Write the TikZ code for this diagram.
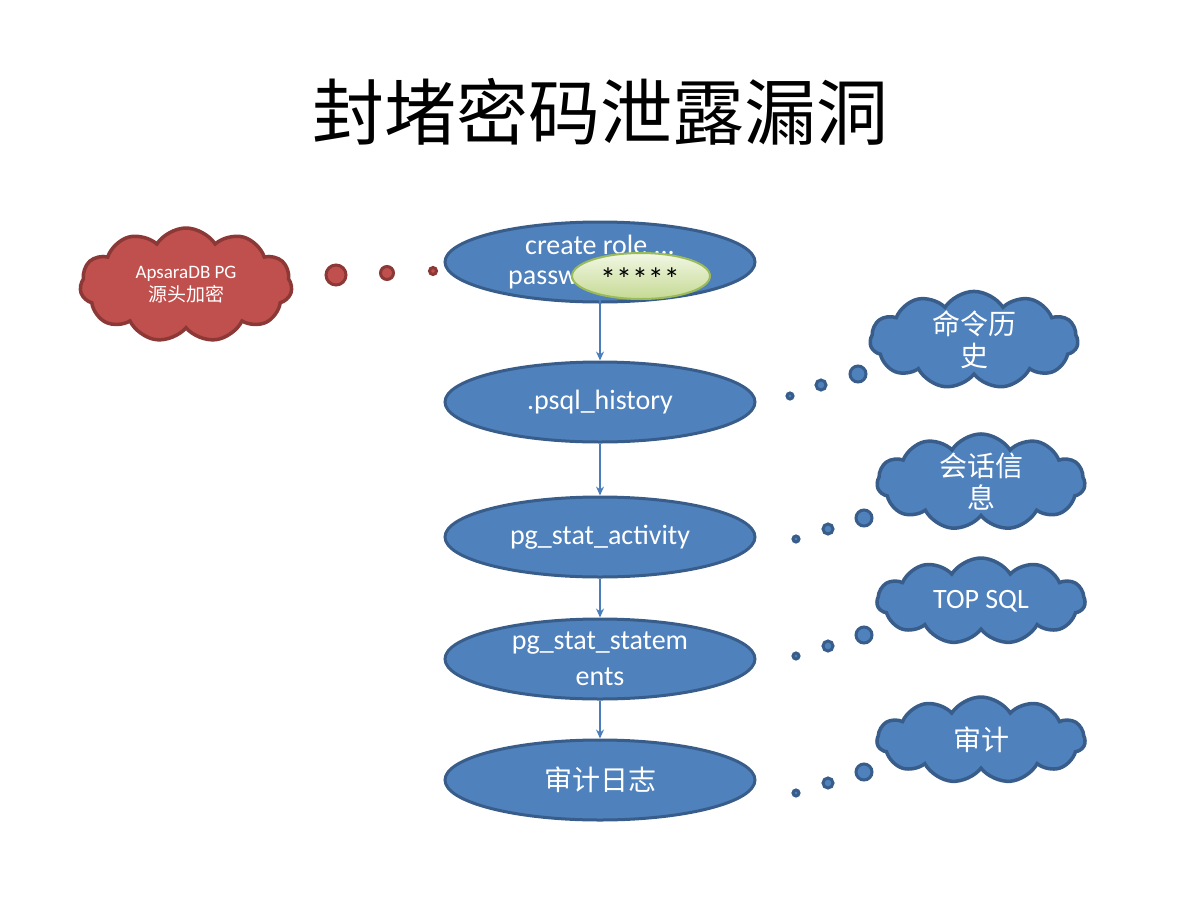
\documentclass[tikz,border=0pt]{standalone}
\usepackage{fontspec}
\setmainfont{Carlito}
\newfontfamily\cjk{Noto Sans CJK SC}
\usetikzlibrary{shapes.geometric,shapes.symbols,arrows.meta}
\definecolor{bfill}{HTML}{4F81BD}
\definecolor{bline}{HTML}{385D8A}
\definecolor{rfill}{HTML}{C0504D}
\definecolor{rline}{HTML}{8C3836}
\definecolor{gline}{HTML}{9BBB59}
\definecolor{gtop}{HTML}{F2F7E4}
\definecolor{gbot}{HTML}{C5DA94}
\definecolor{arr}{HTML}{4A7EBB}
\tikzset{
  stage/.style={ellipse, draw=bline, fill=bfill, line width=3pt, minimum width=310pt, minimum height=80pt, inner sep=0pt, text=white, font=\fontsize{28}{36}\selectfont, align=center},
  bcloud/.style={cloud, cloud puffs=11, cloud puff arc=115, cloud ignores aspect, draw=bline, fill=bfill, line width=3.5pt, minimum width=208pt, minimum height=86pt, inner sep=0pt, text=white, font=\fontsize{28}{32}\selectfont\cjk, align=center},
  rcloud/.style={bcloud, draw=rline, fill=rfill, font=\fontsize{19}{23}\selectfont},
  bdot/.style={circle, draw=bline, fill=bfill, line width=3pt, inner sep=0pt},
  rdot/.style={circle, draw=rline, fill=rfill, line width=3pt, inner sep=0pt},
  flow/.style={draw=arr, line width=1.3pt, -{Stealth[length=9pt,width=8pt]}},
  wtxt/.style={text=white, font=\fontsize{28}{36}\selectfont, inner sep=0pt}
}
\begin{document}
\begin{tikzpicture}[x=1pt,y=-1pt]
\useasboundingbox (0,0) rectangle (1200,900);
\node (title) at (600,112) {\cjk\fontsize{72}{80}\selectfont 封堵密码泄露漏洞};

\node[stage] (e1) at (600,262) {};
\node[wtxt] (t1) at (600,245) {create role ...};
\node[wtxt, anchor=west] (t2) at (508,280) {passw};
\node[ellipse, draw=gline, line width=2pt, top color=gtop, bottom color=gbot, minimum width=138pt, minimum height=46pt, inner sep=0pt] (pw) at (641,276) {};
\node[font=\fontsize{32}{36}\selectfont, inner sep=0pt] (pwt) at (640,279) {*****};

\node[stage] (e2) at (600,402) {.psql\_history};
\node[stage] (e3) at (600,537) {pg\_stat\_activity};
\node[stage] (e4) at (600,659) {pg\_stat\_statem\\ents};
\node[stage, font=\fontsize{28}{36}\selectfont\cjk] (e5) at (600,780) {审计日志};

\coordinate (s1) at (600,300);
\draw[flow] (s1) -- (e2.north);
\draw[flow] (e2.south) -- (e3.north);
\draw[flow] (e3.south) -- (e4.north);
\draw[flow] (e4.south) -- (e5.north);

% red cloud
\node[rcloud, minimum width=212pt, minimum height=114pt] (rc) at (186,285) {ApsaraDB PG\\{\cjk 源头加密}};
\node[rdot, minimum size=20pt] (r1) at (336,275) {};
\node[rdot, minimum size=13pt] (r2) at (387,273) {};
\node[rdot, minimum size=7pt] (r3) at (433,271) {};

% blue clouds
\node[bcloud] (c1) at (974,340) {命令历\\史};
\node[bdot, minimum size=16pt] (d11) at (858,374) {};
\node[bdot, minimum size=10pt] (d12) at (821,385) {};
\node[bdot, minimum size=6pt] (d13) at (790,396) {};

\node[bcloud] (c2) at (981,482) {会话信\\息};
\node[bdot, minimum size=16pt] (d21) at (864,518) {};
\node[bdot, minimum size=10pt] (d22) at (828,529) {};
\node[bdot, minimum size=6pt] (d23) at (796,539) {};

\node[bcloud, font=\fontsize{28}{32}\selectfont] (c3) at (981,601) {\raisebox{3pt}{TOP SQL}};
\node[bdot, minimum size=16pt] (d31) at (864,635) {};
\node[bdot, minimum size=10pt] (d32) at (828,646) {};
\node[bdot, minimum size=6pt] (d33) at (796,656) {};

\node[bcloud] (c4) at (981,740) {\raisebox{3pt}{审计}};
\node[bdot, minimum size=16pt] (d41) at (864,772) {};
\node[bdot, minimum size=10pt] (d42) at (828,783) {};
\node[bdot, minimum size=6pt] (d43) at (796,793) {};
\end{tikzpicture}
\end{document}
